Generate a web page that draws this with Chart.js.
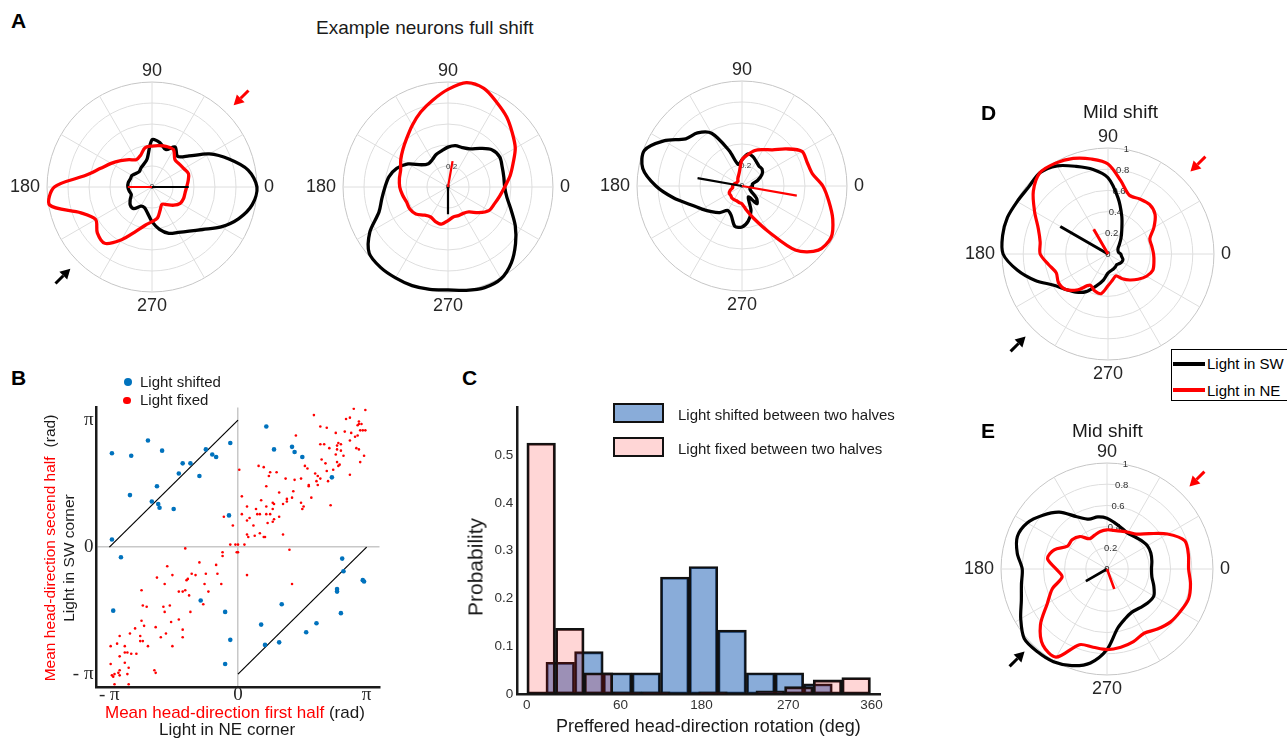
<!DOCTYPE html>
<html>
<head>
<meta charset="utf-8">
<title>Head-direction shift figure</title>
<script src="https://cdn.jsdelivr.net/npm/chart.js@4.4.1/dist/chart.umd.min.js"></script>
<style>
  body { margin: 0; background: #fff; }
  #fig { position: relative; width: 1287px; height: 739px; overflow: hidden; font-family: 'Liberation Sans', Arial, sans-serif; color: #1a1a1a; }
  #fig canvas, #fig .t { position: absolute; }
  .t { white-space: nowrap; line-height: 1; }
  .letter { font-weight: bold; font-size: 21px; color: #000; }
  .red { color: #ff0000; }
  .rot { transform: translate(-50%, -50%) rotate(-90deg); }
  .dot { position: absolute; border-radius: 50%; }
  .box { position: absolute; box-sizing: border-box; border: 2px solid #111; }
  .swatch { position: absolute; height: 4px; width: 32px; }
</style>
</head>
<body>
<div id="fig">
  <canvas id="a1" width="284" height="284" style="left:0px;top:47px"></canvas>
  <canvas id="a2" width="284" height="284" style="left:296px;top:47px"></canvas>
  <canvas id="a3" width="284" height="284" style="left:590px;top:46px"></canvas>
  <canvas id="d" width="287" height="287" style="left:955px;top:113px"></canvas>
  <canvas id="e" width="287" height="287" style="left:954px;top:428px"></canvas>
  <canvas id="b" width="420" height="344" style="left:0px;top:395px"></canvas>
  <canvas id="c" width="440" height="344" style="left:460px;top:395px"></canvas>

  <div class="t letter" style="left:11px;top:10px">A</div>
  <div class="t" style="left:316px;top:18px;font-size:19px">Example neurons full shift</div>
  <div class="t letter" style="left:11px;top:367px">B</div>
  <div class="t letter" style="left:462px;top:367px">C</div>
  <div class="t letter" style="left:981px;top:102px">D</div>
  <div class="t letter" style="left:981px;top:420px">E</div>
  <div class="t" style="left:1083px;top:102px;font-size:19px">Mild shift</div>
  <div class="t" style="left:1072px;top:421px;font-size:19px">Mid shift</div>

  <!-- B legend and titles -->
  <div class="dot" style="left:123.7px;top:378.3px;width:8px;height:8px;background:#0072BD"></div>
  <div class="t" style="left:140px;top:374px;font-size:15px">Light shifted</div>
  <div class="dot" style="left:123px;top:396.5px;width:7.5px;height:7.5px;background:#ff0000"></div>
  <div class="t" style="left:140px;top:392px;font-size:15px">Light fixed</div>
  <div class="t rot" style="left:50px;top:547.5px;font-size:15.5px"><span class="red">Mean head-direction secend half</span><span style="margin-left:9px">(rad)</span></div>
  <div class="t rot" style="left:68.5px;top:558px;font-size:15.5px">Light in SW corner</div>
  <div class="t" style="left:105px;top:704px;font-size:17px"><span class="red">Mean head-direction first half</span> (rad)</div>
  <div class="t" style="left:159px;top:720.5px;font-size:17px">Light in NE corner</div>

  <!-- C legend and titles -->
  <div class="box" style="left:613px;top:403px;width:51px;height:20px;background:rgba(20,90,180,0.5)"></div>
  <div class="t" style="left:678px;top:407px;font-size:15px">Light shifted between two halves</div>
  <div class="box" style="left:613px;top:437px;width:51px;height:20px;background:rgba(255,0,0,0.16)"></div>
  <div class="t" style="left:678px;top:440.5px;font-size:15px">Light fixed between two halves</div>
  <div class="t rot" style="left:475px;top:566.7px;font-size:21px">Probability</div>
  <div class="t" style="left:556px;top:717px;font-size:18px">Preffered head-direction rotation (deg)</div>

  <!-- D legend -->
  <div style="position:absolute;left:1171px;top:349px;width:130px;height:52px;border:1px solid #000;box-sizing:border-box;background:#fff"></div>
  <div class="swatch" style="left:1173px;top:361.5px;background:#000"></div>
  <div class="t" style="left:1207px;top:355.5px;font-size:15px;color:#000">Light in SW</div>
  <div class="swatch" style="left:1173px;top:388px;background:#ff0000"></div>
  <div class="t" style="left:1207px;top:382.5px;font-size:15px;color:#000">Light in NE</div>
</div>

<script>
const FONT = "'Liberation Sans', Arial, sans-serif";
Chart.defaults.font.family = FONT;
Chart.defaults.color = '#262626';

// ---------- polar tuning curves (A, D, E) ----------
// head direction in degrees, counter-clockwise from east
const angles = [0, 10, 20, 30, 40, 50, 60, 70, 80, 90, 100, 110, 120, 130, 140, 150, 160, 170,
  180, 190, 200, 210, 220, 230, 240, 250, 260, 270, 280, 290, 300, 310, 320, 330, 340, 350];

// normalised firing rate; Sw = light in SW (black), Ne = light in NE (red)
const a1Sw = [1.00, 0.93, 0.78, 0.63, 0.46, 0.38, 0.44, 0.38, 0.43, 0.45, 0.27, 0.23, 0.21, 0.19, 0.20, 0.22, 0.22, 0.23,
  0.23, 0.22, 0.21, 0.24, 0.27, 0.27, 0.21, 0.21, 0.25, 0.33, 0.41, 0.47, 0.50, 0.55, 0.63, 0.76, 0.88, 0.97];
const a1Ne = [0.33, 0.35, 0.37, 0.35, 0.34, 0.34, 0.41, 0.41, 0.40, 0.39, 0.38, 0.32, 0.30, 0.34, 0.39, 0.45, 0.52, 0.64,
  0.93, 0.99, 0.72, 0.62, 0.68, 0.70, 0.58, 0.45, 0.37, 0.33, 0.30, 0.23, 0.19, 0.22, 0.27, 0.31, 0.32, 0.32];
const a1SwVec = [0, 0.35];
const a1NeVec = [180, 0.23];

const a2Sw = [0.54, 0.54, 0.55, 0.57, 0.55, 0.48, 0.42, 0.40, 0.40, 0.38, 0.35, 0.33, 0.30, 0.29, 0.33, 0.44, 0.52, 0.57,
  0.60, 0.64, 0.70, 0.86, 0.98, 1.00, 1.00, 1.00, 0.99, 0.98, 1.00, 1.02, 1.01, 0.94, 0.84, 0.74, 0.64, 0.57];
const a2Ne = [0.54, 0.60, 0.66, 0.74, 0.80, 0.87, 0.93, 1.00, 1.01, 0.93, 0.84, 0.76, 0.68, 0.61, 0.56, 0.52, 0.48, 0.47,
  0.46, 0.44, 0.42, 0.42, 0.40, 0.35, 0.33, 0.35, 0.36, 0.32, 0.29, 0.29, 0.29, 0.31, 0.38, 0.45, 0.47, 0.50];
const a2SwVec = [270, 0.26];
const a2NeVec = [80, 0.25];

const a3Sw = [0.10, 0.10, 0.16, 0.22, 0.25, 0.25, 0.27, 0.30, 0.31, 0.25, 0.21, 0.36, 0.58, 0.66, 0.70, 0.86, 0.99, 0.96,
  0.82, 0.66, 0.52, 0.44, 0.38, 0.33, 0.27, 0.30, 0.39, 0.39, 0.34, 0.25, 0.12, 0.22, 0.18, 0.10, 0.08, 0.08];
const a3Ne = [0.77, 0.68, 0.66, 0.66, 0.55, 0.45, 0.40, 0.36, 0.30, 0.25, 0.14, 0.10, 0.08, 0.06, 0.06, 0.06, 0.07, 0.08,
  0.09, 0.09, 0.12, 0.14, 0.14, 0.15, 0.15, 0.15, 0.16, 0.17, 0.23, 0.33, 0.50, 0.80, 0.95, 0.98, 0.92, 0.84];
const a3SwVec = [170, 0.43];
const a3NeVec = [350, 0.53];

const dSw = [0.12, 0.10, 0.10, 0.11, 0.14, 0.19, 0.26, 0.38, 0.54, 0.72, 0.81, 0.88, 0.96, 1.00, 0.98, 0.99, 1.01, 1.01,
  0.99, 0.87, 0.73, 0.59, 0.52, 0.47, 0.41, 0.32, 0.25, 0.18, 0.16, 0.15, 0.14, 0.13, 0.14, 0.15, 0.15, 0.13];
const dNe = [0.43, 0.42, 0.42, 0.50, 0.58, 0.61, 0.60, 0.59, 0.70, 0.85, 0.91, 0.96, 0.99, 1.00, 0.92, 0.80, 0.70, 0.65,
  0.64, 0.57, 0.52, 0.54, 0.52, 0.44, 0.34, 0.37, 0.38, 0.30, 0.25, 0.22, 0.27, 0.32, 0.37, 0.42, 0.45, 0.44];
const dSwVec = [150, 0.52];
const dNeVec = [120, 0.27];

const eSw = [0.42, 0.43, 0.44, 0.44, 0.42, 0.40, 0.39, 0.41, 0.44, 0.48, 0.50, 0.50, 0.57, 0.70, 0.79, 0.87, 0.90, 0.86,
  0.80, 0.82, 0.86, 0.94, 1.02, 1.02, 1.01, 0.97, 0.90, 0.76, 0.57, 0.50, 0.47, 0.48, 0.50, 0.51, 0.47, 0.43];
const eNe = [0.77, 0.78, 0.78, 0.66, 0.52, 0.43, 0.40, 0.38, 0.37, 0.37, 0.36, 0.34, 0.33, 0.40, 0.43, 0.43, 0.53, 0.57,
  0.48, 0.43, 0.55, 0.65, 0.82, 0.94, 0.96, 0.76, 0.75, 0.76, 0.75, 0.73, 0.70, 0.74, 0.78, 0.80, 0.82, 0.80];
const eSwVec = [210, 0.23];
const eNeVec = [290, 0.20];

// ---------- B: mean head direction, in units of pi ----------
const lightShifted = [[-0.98, 0.74], [-0.70, 0.84], [-0.83, 0.72], [-0.59, 0.76], [-0.25, 0.77], [-0.06, 0.82],
  [-0.20, 0.73], [-0.17, 0.71], [-0.43, 0.66], [-0.37, 0.66], [-0.46, 0.58], [-0.30, 0.56], [-0.63, 0.48],
  [-0.84, 0.41], [-0.67, 0.36], [-0.62, 0.34], [-0.61, 0.31], [-0.50, 0.30], [-0.98, 0.06], [-0.07, 0.25],
  [0.22, 0.95], [0.28, 0.77], [0.42, 0.79], [0.44, 0.75], [0.50, 0.71], [0.73, 0.55], [-0.91, -0.08],
  [-0.97, -0.50], [-0.29, -0.42], [-0.10, -0.51], [-0.06, -0.73], [-0.10, -0.92], [0.81, -0.09], [0.82, -0.19],
  [0.97, -0.26], [0.98, -0.27], [0.77, -0.33], [0.77, -0.35], [0.80, -0.52], [0.34, -0.45], [0.18, -0.61],
  [0.61, -0.60], [0.53, -0.67], [0.32, -0.75], [0.21, -0.77]];
const lightFixed = [[0.59, 1.04], [0.90, 1.09], [0.99, 1.08], [0.84, 1.01], [0.87, 1.02], [0.94, 0.99], [0.94, 0.97],
  [0.96, 0.97], [0.93, 0.96], [0.64, 0.95], [0.69, 0.94], [0.45, 0.88], [0.76, 0.90], [0.83, 0.91], [0.88, 0.90],
  [0.91, 0.87], [0.93, 0.88], [0.97, 0.92], [0.99, 0.92], [0.95, 0.92], [0.87, 0.84], [0.78, 0.82], [0.77, 0.80],
  [0.80, 0.81], [0.64, 0.81], [0.67, 0.81], [0.71, 0.78], [0.92, 0.78], [0.94, 0.77], [0.77, 0.77], [0.80, 0.76],
  [0.76, 0.73], [0.82, 0.72], [0.65, 0.69], [0.95, 0.67], [0.98, 0.72], [0.77, 0.67], [0.79, 0.65], [0.78, 0.64],
  [0.68, 0.66], [0.52, 0.64], [0.54, 0.62], [0.16, 0.64], [0.20, 0.63], [0.30, 0.59], [0.25, 0.59], [0.24, 0.56],
  [0.37, 0.54], [0.44, 0.53], [0.49, 0.54], [0.60, 0.58], [0.64, 0.54], [0.61, 0.52], [0.62, 0.56], [0.69, 0.60],
  [0.74, 0.61], [0.87, 0.57], [0.55, 0.49], [0.55, 0.48], [0.62, 0.49], [0.70, 0.52], [0.22, 0.48], [0.01, 0.61],
  [0.32, 0.43], [0.43, 0.44], [0.03, 0.40], [0.07, 0.32], [0.18, 0.37], [0.14, 0.30], [0.15, 0.26], [0.17, 0.26],
  [0.22, 0.32], [0.27, 0.30], [0.28, 0.34], [0.27, 0.35], [0.38, 0.38], [0.38, 0.36], [0.35, 0.34], [0.42, 0.39],
  [0.49, 0.35], [0.50, 0.30], [0.57, 0.39], [0.51, 0.32], [0.25, 0.26], [0.22, 0.26], [0.28, 0.22], [0.32, 0.24],
  [0.27, 0.20], [0.23, 0.19], [0.12, 0.17], [0.07, 0.21], [0.03, 0.26], [0.09, 0.23], [-0.04, 0.17], [0.07, 0.10],
  [0.08, 0.08], [0.13, 0.09], [0.20, 0.08], [0.21, 0.08], [0.35, 0.10], [0.17, 0.11], [0.72, 0.33], [0.40, -0.02],
  [-0.06, 0.02], [-0.02, 0.02], [0.00, 0.02], [0.05, 0.02], [-0.41, -0.01], [-0.11, 0.24],
  [-0.12, -0.04], [-0.12, -0.07], [-0.01, -0.04], [0.00, -0.04], [-0.17, -0.14], [-0.30, -0.12], [-0.36, -0.21],
  [-0.33, -0.22], [-0.25, -0.21], [-0.16, -0.21], [-0.13, -0.29], [-0.23, -0.35], [-0.26, -0.29], [-0.40, -0.26],
  [-0.39, -0.25], [-0.55, -0.15], [-0.51, -0.22], [-0.63, -0.24], [-0.57, -0.29], [-0.46, -0.35], [-0.43, -0.35],
  [-0.41, -0.34], [-0.38, -0.38], [-0.37, -0.51], [-0.27, -0.45], [-0.75, -0.34], [-0.74, -0.46], [-0.71, -0.47],
  [-0.58, -0.47], [-0.53, -0.46], [-0.57, -0.51], [-0.46, -0.57], [-0.52, -0.59], [-0.43, -0.65], [-0.56, -0.68],
  [-0.60, -0.71], [-0.51, -0.78], [-0.43, -0.71], [-0.64, -0.63], [-0.75, -0.58], [-0.73, -0.62], [-0.80, -0.64],
  [-0.84, -0.68], [-0.92, -0.70], [-0.76, -0.70], [-0.76, -0.74], [-0.74, -0.74], [-0.70, -0.78], [-0.88, -0.78],
  [-0.94, -0.76], [-0.99, -0.78], [-0.88, -0.83], [-0.86, -0.83], [-0.83, -0.84], [-0.79, -0.84], [-0.92, -0.86],
  [-0.99, -0.92], [-0.88, -0.91], [-0.85, -0.95], [-0.92, -0.97], [-0.93, -0.99], [-0.96, -1.00], [-0.98, -1.01],
  [-0.97, -1.02], [-0.92, -1.01], [-0.86, -1.00], [-0.65, -0.97], [-0.64, -0.99], [-0.85, -1.08], [-0.96, -1.08],
  [0.07, -0.22], [0.42, -0.29]];
const refLineA = [[-1, 0], [0, 1]];
const refLineB = [[0, -1], [1, 0]];
const piTicks = [-1, 0, 1];

// ---------- C: rotation histogram (deg) ----------
const fixedBinCenters = [15, 45, 75, 105, 135, 165, 195, 225, 255, 285, 315, 345];
const fixedProb = [0.525, 0.138, 0.045, 0.005, 0.005, 0, 0.005, 0, 0.007, 0.016, 0.030, 0.035];
const shiftedBinCenters = [35, 65, 95, 125, 155, 185, 215, 245, 275, 305];
const shiftedProb = [0.067, 0.089, 0.045, 0.045, 0.245, 0.267, 0.134, 0.045, 0.045, 0.022];
const rotTickPos = [0, 98, 183, 274, 361];
const rotTickText = ['0', '60', '180', '270', '360'];

// ---------- helpers ----------
// radar draws clockwise, so flip the order to run counter-clockwise from east
function ccw(arr) { return [arr[0]].concat(arr.slice(1).reverse()); }
function spoke(vec) { return angles.map(a => (a === vec[0] ? vec[1] : 0)); }
const toXY = pts => pts.map(p => ({ x: p[0], y: p[1] }));

// radial tick labels placed along the 80 deg direction
const rLabelPlugin = {
  id: 'rLabels',
  beforeDatasetsDraw(chart, args, opts) {
    const s = chart.scales.r, ctx = chart.ctx, a = 80 * Math.PI / 180;
    ctx.save();
    ctx.font = opts.size + 'px ' + FONT;
    ctx.fillStyle = '#333';
    ctx.textAlign = 'center';
    ctx.textBaseline = 'middle';
    (opts.values || []).forEach(v => {
      const dist = s.getDistanceFromCenterForValue(v);
      ctx.fillText(String(v), s.xCenter + Math.cos(a) * dist, s.yCenter - Math.sin(a) * dist);
    });
    ctx.restore();
  }
};

// small arrows outside the circle marking the light corners
const arrowPlugin = {
  id: 'arrows',
  afterDatasetsDraw(chart, args, opts) {
    const s = chart.scales.r, ctx = chart.ctx, R = s.drawingArea;
    (opts.list || []).forEach(([deg, color]) => {
      const a = deg * Math.PI / 180, ux = Math.cos(a), uy = -Math.sin(a);
      const tipX = s.xCenter + ux * R * 1.1, tipY = s.yCenter + uy * R * 1.1;
      const head = 10, half = 5.5;
      const bx = tipX + ux * head, by = tipY + uy * head;
      ctx.save();
      ctx.strokeStyle = color;
      ctx.fillStyle = color;
      ctx.lineWidth = 3;
      ctx.beginPath();
      ctx.moveTo(s.xCenter + ux * R * 1.3, s.yCenter + uy * R * 1.3);
      ctx.lineTo(bx, by);
      ctx.stroke();
      ctx.beginPath();
      ctx.moveTo(tipX, tipY);
      ctx.lineTo(bx - uy * half, by + ux * half);
      ctx.lineTo(bx + uy * half, by - ux * half);
      ctx.closePath();
      ctx.fill();
      ctx.restore();
    });
  }
};

const labelPad = { '0': 7, '90': 0, '180': 7, '270': 3 };

function polar(id, sw, ne, swVec, neVec, rValues, rSize, lineW, vecW, arrows) {
  const line = (data, color, width, tension) => ({
    data: ccw(data), borderColor: color, borderWidth: width, tension: tension,
    pointRadius: 0, fill: false, backgroundColor: 'rgba(0,0,0,0)'
  });
  new Chart(document.getElementById(id), {
    type: 'radar',
    data: {
      labels: ccw(angles),
      datasets: [
        line(spoke(neVec), '#ff0000', vecW, 0),
        line(spoke(swVec), '#000000', vecW, 0),
        line(ne, '#ff0000', lineW, 0.3),
        line(sw, '#000000', lineW, 0.3)
      ]
    },
    options: {
      responsive: false,
      animation: false,
      plugins: {
        legend: { display: false },
        tooltip: { enabled: false },
        rLabels: { values: rValues, size: rSize },
        arrows: { list: arrows }
      },
      scales: {
        r: {
          min: 0, max: 1, startAngle: 90,
          ticks: { display: false, stepSize: 0.2 },
          grid: { circular: true, lineWidth: 1, color: c => (c.index === 5 ? '#c6c6c6' : '#dedede') },
          angleLines: { lineWidth: 1, color: c => (c.index % 3 === 0 ? '#dedede' : 'rgba(0,0,0,0)') },
          pointLabels: {
            callback: l => (l % 90 === 0 ? String(l) : ''),
            font: { size: 18 },
            color: '#262626',
            padding: c => labelPad[c.label] || 0
          }
        }
      }
    },
    plugins: [rLabelPlugin, arrowPlugin]
  });
}

const corners = [[45, '#ff0000'], [225, '#000000']];
polar('a1', a1Sw, a1Ne, a1SwVec, a1NeVec, [0], 8, 3.3, 2.2, corners);
polar('a2', a2Sw, a2Ne, a2SwVec, a2NeVec, [0, 0.2], 8, 3.3, 2.2, []);
polar('a3', a3Sw, a3Ne, a3SwVec, a3NeVec, [0, 0.2], 8, 3.3, 2.2, []);
polar('d', dSw, dNe, dSwVec, dNeVec, [0, 0.2, 0.4, 0.6, 0.8, 1], 9.5, 3.2, 3, corners);
polar('e', eSw, eNe, eSwVec, eNeVec, [0, 0.2, 0.4, 0.6, 0.8, 1], 9.5, 3.2, 2.6, corners);

// ---------- B ----------
const piText = v => (v === 0 ? '0' : v > 0 ? 'π' : '- π');
function axisB(which, size) {
  return {
    type: 'linear', min: -1.1, max: 1.1,
    afterBuildTicks: s => { s.ticks = piTicks.map(v => ({ value: v })); },
    afterFit: s => { if (which === 'x') s.height = size; else s.width = size; },
    ticks: {
      callback: piText, autoSkip: false, maxRotation: 0,
      font: { family: "'Liberation Serif', 'Times New Roman', serif", size: 19, lineHeight: 1 },
      color: '#262626', padding: which === 'x' ? -1 : 3
    },
    grid: { drawTicks: false, lineWidth: 1.5, color: c => (c.tick && c.tick.value === 0 ? '#c8c8c8' : 'rgba(0,0,0,0)') },
    border: { color: '#1a1a1a', width: 2.5 }
  };
}
new Chart(document.getElementById('b'), {
  type: 'scatter',
  data: {
    datasets: [
      { data: toXY(lightShifted), backgroundColor: '#0072BD', pointRadius: 2.3, borderWidth: 0 },
      { data: toXY(lightFixed), backgroundColor: '#ff0000', pointRadius: 1.3, borderWidth: 0 },
      { data: toXY(refLineA), showLine: true, borderColor: '#000', borderWidth: 1.2, pointRadius: 0 },
      { data: toXY(refLineB), showLine: true, borderColor: '#000', borderWidth: 1.2, pointRadius: 0 }
    ]
  },
  options: {
    responsive: false,
    animation: false,
    layout: { padding: { top: 9.3, right: 40.5, left: 0, bottom: 0 } },
    plugins: { legend: { display: false }, tooltip: { enabled: false } },
    scales: { x: axisB('x', 52.2), y: axisB('y', 96.5) }
  }
});

// ---------- C ----------
const barStyle = {
  borderColor: '#111', borderWidth: 2.2, borderSkipped: false,
  barPercentage: 1, categoryPercentage: 1, grouped: false
};
new Chart(document.getElementById('c'), {
  type: 'bar',
  data: {
    datasets: [
      Object.assign({ label: 'Light fixed between two halves', data: toXY(fixedBinCenters.map((x, i) => [x, fixedProb[i]])),
        xAxisID: 'x', backgroundColor: 'rgba(255,0,0,0.16)', order: 0 }, barStyle),
      Object.assign({ label: 'Light shifted between two halves', data: toXY(shiftedBinCenters.map((x, i) => [x, shiftedProb[i]])),
        xAxisID: 'x2', backgroundColor: 'rgba(20,90,180,0.5)', order: 1 }, barStyle)
    ]
  },
  options: {
    responsive: false,
    animation: false,
    layout: { padding: { top: 8.3, right: 20, left: 0, bottom: 0 } },
    plugins: { legend: { display: false }, tooltip: { enabled: false } },
    scales: {
      x: {
        type: 'linear', min: -10, max: 370, offset: false,
        afterBuildTicks: s => { s.ticks = rotTickPos.map(v => ({ value: v })); },
        afterFit: s => { s.height = 44.7; },
        ticks: { callback: (v, i) => rotTickText[i], autoSkip: false, maxRotation: 0, font: { size: 13.5 }, color: '#333', padding: 3 },
        grid: { display: false, drawTicks: false },
        border: { color: '#1a1a1a', width: 2.5 }
      },
      x2: { type: 'linear', min: -10, max: 370, offset: false, display: false, ticks: { stepSize: 100 } },
      y: {
        min: 0, max: 0.6,
        afterFit: s => { s.width = 57.3; },
        ticks: { stepSize: 0.1, callback: v => (v === 0 ? '0' : v > 0.55 ? '' : v.toFixed(1)), font: { size: 13.5 }, color: '#333', padding: 4 },
        grid: { display: false, drawTicks: false },
        border: { color: '#1a1a1a', width: 2.5 }
      }
    }
  }
});
</script>
</body>
</html>
